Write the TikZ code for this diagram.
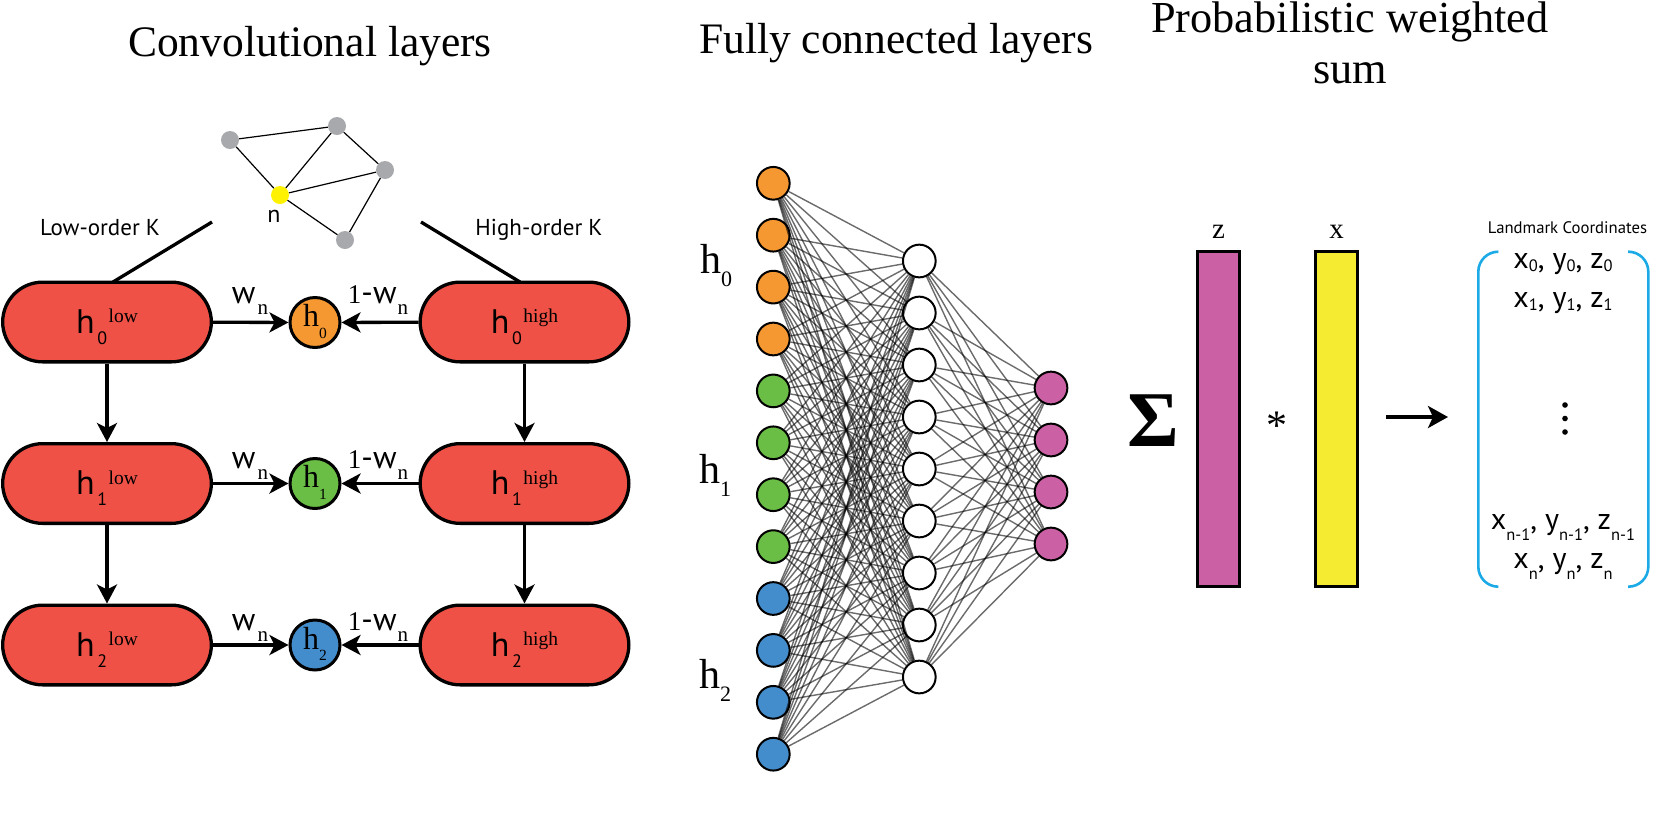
\documentclass[tikz,border=0pt]{standalone}
\usepackage[no-math]{fontspec}
\setmainfont{Liberation Serif}
\setsansfont{PT Sans}
\usetikzlibrary{arrows.meta}
\definecolor{boxred}{RGB}{239,81,70}
\definecolor{corange}{RGB}{246,152,50}
\definecolor{cgreen}{RGB}{106,189,69}
\definecolor{cblue}{RGB}{68,141,204}
\definecolor{cpink}{RGB}{203,96,164}
\definecolor{cyellow}{RGB}{245,236,50}
\definecolor{nyellow}{RGB}{255,242,0}
\definecolor{ngray}{RGB}{167,169,172}
\definecolor{cbrack}{RGB}{28,170,230}
\newcommand{\boxlab}[2]{{\sffamily\fontsize{34}{34}\selectfont h}\kern2.5pt\raisebox{-10.7pt}{\sffamily\fontsize{18}{18}\selectfont #1}\kern1.5pt\raisebox{10.6pt}{\rmfamily\fontsize{19.5}{19.5}\selectfont #2}}
\newcommand{\circlab}[1]{{\rmfamily\fontsize{32}{32}\selectfont h}\raisebox{-11.7pt}{\rmfamily\fontsize{15.5}{15.5}\selectfont #1}}
\newcommand{\netlab}[1]{{\rmfamily\fontsize{42}{42}\selectfont h}\raisebox{-13.7pt}{\rmfamily\fontsize{22}{22}\selectfont #1}}
\newcommand{\wlab}{{\sffamily\fontsize{32}{32}\selectfont w}\kern2pt\raisebox{-11pt}{\rmfamily\fontsize{21}{21}\selectfont n}}
\newcommand{\wwlab}{{\rmfamily\fontsize{27}{27}\selectfont 1}{\sffamily\fontsize{32}{32}\selectfont -w}\kern1pt\raisebox{-11pt}{\rmfamily\fontsize{21}{21}\selectfont n}}
\newcommand{\lsub}[2][3pt]{\raisebox{-#1}{\fontsize{16.5}{16.5}\selectfont #2}}
\begin{document}
\begin{tikzpicture}[x=1pt,y=-1pt,
  hbox/.style={draw, line width=3.3pt, fill=boxred, rounded corners=40pt,
    minimum width=208.7pt, minimum height=79.7pt, inner sep=0pt,
    text height=26pt, text depth=3.4pt},
  hcirc/.style={circle, draw, line width=3pt, minimum size=50pt, inner sep=0pt,
    text height=20pt, text depth=12pt},
  arr/.style={line width=3.3pt, -{Stealth[length=19pt,width=20pt,inset=5pt]}},
  gnode/.style={circle, fill=ngray, minimum size=18pt, inner sep=0pt},
  gedge/.style={line width=1.2pt},
  nn/.style={circle, draw, line width=2pt, minimum size=32.7pt, inner sep=0pt},
  nedge/.style={line width=1.4pt, draw=black, opacity=0.58},
  title/.style={anchor=base, inner sep=0pt, font=\rmfamily\fontsize{43.5}{50}\selectfont},
  klab/.style={anchor=base, inner sep=0pt, font=\sffamily\fontsize{23}{23}\selectfont},
  vbar/.style={draw, line width=3.3pt, minimum width=41.7pt, minimum height=334.7pt, inner sep=0pt},
  brk/.style={draw=cbrack, line width=2.6pt, rounded corners=20pt},
  rowlab/.style={anchor=base, inner sep=0pt, font=\sffamily\fontsize{30}{30}\selectfont}
]
\useasboundingbox (0,0) rectangle (1667,839);

% titles
\node[title] (t1) at (310,56) {Convolutional layers};
\node[title] (t2) at (896,53) {Fully connected layers};
\node[title, font=\rmfamily\fontsize{44.3}{50}\selectfont] (t3a) at (1350,32) {Probabilistic weighted};
\node[title, font=\rmfamily\fontsize{44.3}{50}\selectfont] (t3b) at (1350,83) {sum};

% small graph
\node[gnode] (g1) at (230,140) {};
\node[gnode] (g2) at (337,126) {};
\node[gnode] (g3) at (385,170) {};
\node[gnode] (g4) at (345,240) {};
\node[gnode, fill=nyellow] (gn) at (280,195) {};
\draw[gedge] (g1) -- (g2);
\draw[gedge] (g1) -- (gn);
\draw[gedge] (g2) -- (gn);
\draw[gedge] (g2) -- (g3);
\draw[gedge] (gn) -- (g3);
\draw[gedge] (gn) -- (g4);
\draw[gedge] (g3) -- (g4);
\node[anchor=base, inner sep=0pt, font=\sffamily\fontsize{24}{24}\selectfont] (nlab) at (274,222) {n};

% K labels and lines
\node[klab] (lowk) at (100,235) {Low-order K};
\node[klab] (highk) at (539,235) {High-order K};
\coordinate (lowtop) at (212,222);
\coordinate (lowfoot) at (113,282);
\coordinate (hightop) at (421,222);
\coordinate (highfoot) at (520,282);
\draw[line width=3.3pt] (lowtop) -- (lowfoot);
\draw[line width=3.3pt] (hightop) -- (highfoot);

% boxes
\node[hbox] (L0) at (107,322) {\boxlab{0}{low}};
\node[hbox] (L1) at (107,483.5) {\boxlab{1}{low}};
\node[hbox] (L2) at (107,645) {\boxlab{2}{low}};
\node[hbox] (H0) at (524.5,322) {\boxlab{0}{high}};
\node[hbox] (H1) at (524.5,483.5) {\boxlab{1}{high}};
\node[hbox] (H2) at (524.5,645) {\boxlab{2}{high}};
\node[hcirc, fill=corange] (C0) at (315,322.5) {\circlab{0}};
\node[hcirc, fill=cgreen] (C1) at (315,483.5) {\circlab{1}};
\node[hcirc, fill=cblue] (C2) at (315,645) {\circlab{2}};

\draw[arr] (L0) -- (L1);
\draw[arr] (L1) -- (L2);
\draw[arr] (H0) -- (H1);
\draw[arr] (H1) -- (H2);
\draw[arr] (L0) -- (C0);
\draw[arr] (L1) -- (C1);
\draw[arr] (L2) -- (C2);
\draw[arr] (H0) -- (C0);
\draw[arr] (H1) -- (C1);
\draw[arr] (H2) -- (C2);

\node[anchor=base, inner sep=0pt] (w0) at (250,303) {\wlab};
\node[anchor=base, inner sep=0pt] (w1) at (250,468) {\wlab};
\node[anchor=base, inner sep=0pt] (w2) at (250,630) {\wlab};
\node[anchor=base, inner sep=0pt] (ww0) at (378,303) {\wwlab};
\node[anchor=base, inner sep=0pt] (ww1) at (378,468) {\wwlab};
\node[anchor=base, inner sep=0pt] (ww2) at (378,630) {\wwlab};

% network
\foreach \k in {1,...,12} {
  \ifnum\k<5 \def\col{corange}\else\ifnum\k<9 \def\col{cgreen}\else\def\col{cblue}\fi\fi
  \node[nn, fill=\col] (i\k) at (773.3,{183.3+51.9*(\k-1)}) {};
}
\foreach \k in {1,...,9} \node[nn, fill=white] (m\k) at (919.3,{261+52*(\k-1)}) {};
\foreach \k in {1,...,4} \node[nn, fill=cpink] (o\k) at (1051,{388+52*(\k-1)}) {};
\foreach \a in {1,...,12} \foreach \b in {1,...,9} \draw[nedge] (i\a) -- (m\b);
\foreach \a in {1,...,9} \foreach \b in {1,...,4} \draw[nedge] (m\a) -- (o\b);

\node[anchor=base, inner sep=0pt] (nh0) at (716,273) {\netlab{0}};
\node[anchor=base, inner sep=0pt] (nh1) at (715,483) {\netlab{1}};
\node[anchor=base, inner sep=0pt] (nh2) at (715,688) {\netlab{2}};

% weighted sum
\node[inner sep=0pt] (sig) at (1153,421) {\rmfamily\bfseries\fontsize{79}{79}\selectfont Σ};
\node[vbar, fill=cpink] (zr) at (1218.5,419) {};
\node[vbar, fill=cyellow] (xr) at (1336.5,419) {};
\node[anchor=base, inner sep=0pt, font=\rmfamily\fontsize{29}{29}\selectfont] (zl) at (1218.5,238) {z};
\node[anchor=base, inner sep=0pt, font=\rmfamily\fontsize{29}{29}\selectfont] (xl) at (1336.5,238) {x};
\node[anchor=base, inner sep=0pt, font=\rmfamily\fontsize{42}{42}\selectfont] (ast) at (1277,439) {*};
\coordinate (as) at (1386,417);
\coordinate (ae) at (1448,417);
\draw[line width=3.3pt, -{Stealth[length=20pt,width=22pt,inset=5pt]}] (as) -- (ae);

% landmark coordinates
\draw[brk] (1498,251.7) -- (1478.3,251.7) -- (1478.3,586.7) -- (1498,586.7);
\draw[brk] (1628,251.7) -- (1648.3,251.7) -- (1648.3,586.7) -- (1628,586.7);
\node[anchor=base, inner sep=0pt, font=\sffamily\fontsize{16.7}{16.7}\selectfont] (lc) at (1567.5,233) {Landmark Coordinates};
\node[rowlab] (r0) at (1563,268) {x\lsub{0}, y\lsub{0}, z\lsub{0}};
\node[rowlab] (r1) at (1563,307) {x\lsub{1}, y\lsub{1}, z\lsub{1}};
\node[rowlab] (rn1) at (1563,529) {x\lsub[11pt]{n-1}, y\lsub[11pt]{n-1}, z\lsub[11pt]{n-1}};
\node[rowlab] (rn) at (1563,568) {x\lsub[11pt]{n}, y\lsub[11pt]{n}, z\lsub[11pt]{n}};
\fill (1565,405) circle (2.8pt);
\fill (1565,418.5) circle (2.8pt);
\fill (1565,432) circle (2.8pt);
\end{tikzpicture}
\end{document}
